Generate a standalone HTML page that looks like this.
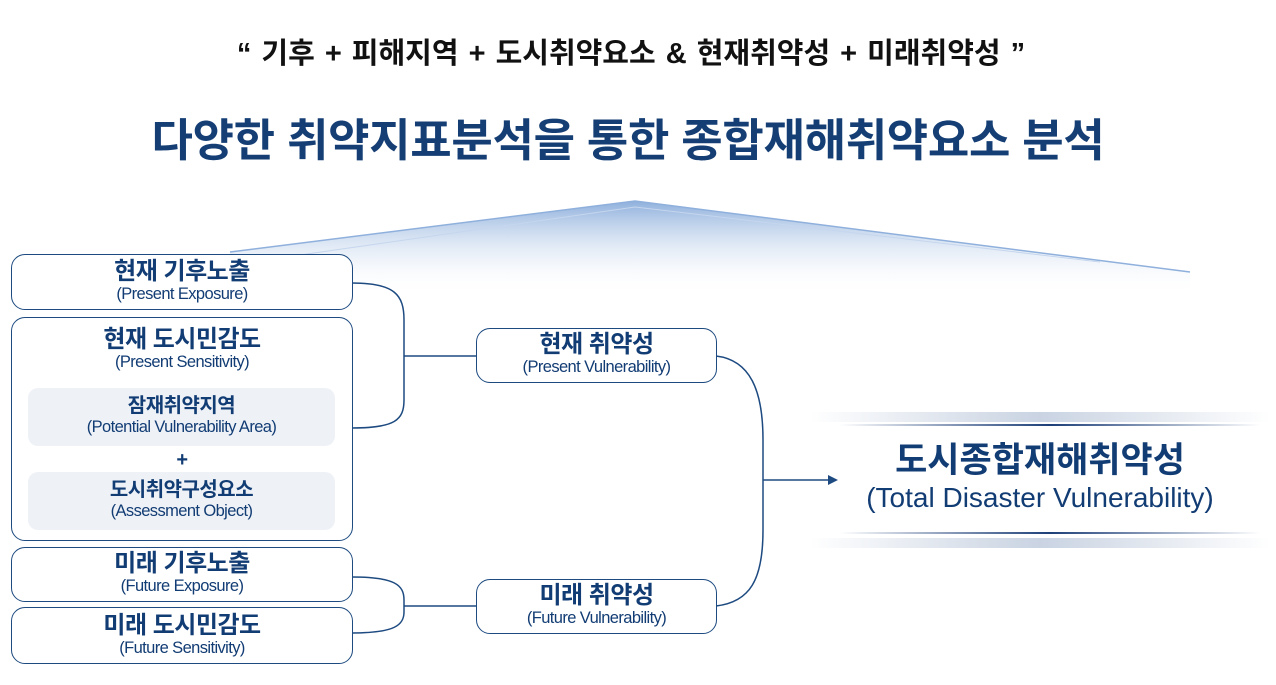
<!DOCTYPE html>
<html><head><meta charset="utf-8"><style>
body{margin:0;width:1276px;height:685px;background:#fff;position:relative;overflow:hidden;font-family:"Liberation Sans","Noto Sans CJK KR",sans-serif;}
.t{position:absolute;text-align:center;}
.box{position:absolute;border:1.5px solid #1d4a80;border-radius:14px;background:#fff;box-sizing:border-box;text-align:center;color:#123c74;}
.k{font-weight:bold;font-size:24px;line-height:26px;letter-spacing:-0.5px;}
.e{font-size:16.5px;line-height:18px;letter-spacing:-0.6px;}
.in{position:absolute;left:16px;width:307px;height:58px;background:#eef2f7;border-radius:10px;}
</style></head><body>
<div class="t" style="left:0;width:1262px;top:30px;font-size:29px;font-weight:bold;color:#111;word-spacing:2px;">“ 기후 + 피해지역 + 도시취약요소 &amp; 현재취약성 + 미래취약성 ”</div>
<div class="t" style="left:0;width:1256px;top:104px;font-size:45px;font-weight:bold;color:#153e75;letter-spacing:-0.3px;">다양한 취약지표분석을 통한 종합재해취약요소 분석</div>
<svg width="1276" height="685" style="position:absolute;left:0;top:0">
<defs>
<linearGradient id="g" x1="0" y1="0" x2="0" y2="1"><stop offset="0" stop-color="#8fb0dc"/><stop offset="1" stop-color="#ffffff" stop-opacity="0"/></linearGradient>
<linearGradient id="h" x1="0" y1="0" x2="1" y2="0"><stop offset="0" stop-color="#fff"/><stop offset="0.5" stop-color="#1d3f78"/><stop offset="1" stop-color="#fff"/></linearGradient>
<linearGradient id="hs" x1="0" y1="0" x2="1" y2="0"><stop offset="0" stop-color="#fff"/><stop offset="0.5" stop-color="#c9d3e2"/><stop offset="1" stop-color="#fff"/></linearGradient>
</defs>
<polygon points="230,252 635,201 1190,272 1190,295 230,295" fill="url(#g)"/>
<polyline points="230,252 635,201 1190,272" fill="none" stroke="#8fb0dc" stroke-width="1.5"/>
<polyline points="300,255 635,207 1100,262" fill="none" stroke="#c5d6ee" stroke-width="1"/>
<rect x="810" y="412" width="460" height="10" fill="url(#hs)"/>
<rect x="810" y="538" width="460" height="10" fill="url(#hs)"/>
<rect x="840" y="424" width="420" height="2" fill="url(#h)"/>
<rect x="840" y="532" width="420" height="2" fill="url(#h)"/>
<g fill="none" stroke="#1d4a80" stroke-width="1.5">
<path d="M352,283 C395,283 404,295 404,320 L404,400 C404,420 395,428 352,428"/>
<path d="M404,356 L476,356"/>
<path d="M352,577 C395,577 404,585 404,600 L404,612 C404,625 395,633 352,633"/>
<path d="M404,606 L476,606"/>
<path d="M716,356 C750,360 763,390 763,440 L763,530 C763,580 750,602 716,606"/>
<path d="M763,480 L830,480"/>
</g>
<polygon points="838,480 828,475 828,485" fill="#1d4a80"/>
</svg>
<div class="box" style="left:11px;top:254px;width:342px;height:56px;padding-top:4px;"><div class="k">현재 기후노출</div><div class="e">(Present Exposure)</div></div>
<div class="box" style="left:11px;top:317px;width:342px;height:224px;padding-top:9px;"><div class="k">현재 도시민감도</div><div class="e">(Present Sensitivity)</div>
<div class="in" style="top:70px;padding-top:6px;box-sizing:border-box;"><div class="k" style="font-size:20px;line-height:24px;">잠재취약지역</div><div class="e">(Potential Vulnerability Area)</div></div>
<div class="k" style="position:absolute;left:0;width:100%;top:129px;font-size:20px;">+</div>
<div class="in" style="top:154px;padding-top:6px;box-sizing:border-box;"><div class="k" style="font-size:20px;line-height:24px;">도시취약구성요소</div><div class="e">(Assessment Object)</div></div>
</div>
<div class="box" style="left:11px;top:547px;width:342px;height:55px;padding-top:3px;"><div class="k">미래 기후노출</div><div class="e">(Future Exposure)</div></div>
<div class="box" style="left:11px;top:607px;width:342px;height:57px;padding-top:5px;"><div class="k">미래 도시민감도</div><div class="e">(Future Sensitivity)</div></div>
<div class="box" style="left:476px;top:328px;width:241px;height:55px;padding-top:3px;"><div class="k">현재 취약성</div><div class="e">(Present Vulnerability)</div></div>
<div class="box" style="left:476px;top:579px;width:241px;height:55px;padding-top:3px;"><div class="k">미래 취약성</div><div class="e">(Future Vulnerability)</div></div>
<div class="t" style="left:810px;width:460px;top:441px;font-size:35px;font-weight:bold;color:#123c74;line-height:40px;">도시종합재해취약성</div>
<div class="t" style="left:810px;width:460px;top:482px;font-size:28px;color:#123c74;line-height:32px;">(Total Disaster Vulnerability)</div>
</body></html>
